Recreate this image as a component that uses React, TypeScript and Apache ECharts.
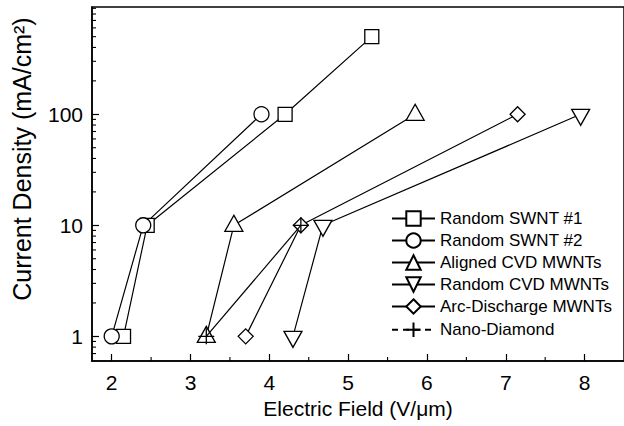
import React, { useEffect, useRef } from "react";
import * as echarts from "echarts";

const FONT = '"Liberation Sans", Arial, Helvetica, sans-serif';

const seriesNames = [
  "Random SWNT #1",
  "Random SWNT #2",
  "Aligned CVD MWNTs",
  "Random CVD MWNTs",
  "Arc-Discharge MWNTs",
  "Nano-Diamond",
];

const randomSwnt1: [number, number][] = [[2.15, 1], [2.45, 10], [4.2, 100], [5.3, 500]];
const randomSwnt2: [number, number][] = [[2.0, 1], [2.4, 10], [3.9, 100]];
const alignedCvd: [number, number][] = [[3.2, 1], [3.55, 10], [5.85, 100]];
const randomCvd: [number, number][] = [[4.3, 1], [4.68, 10], [7.95, 100]];
const arcDischarge: [number, number][] = [[3.7, 1], [4.4, 10], [7.15, 100]];
const nanoDiamond: [number, number][] = [[3.2, 1], [4.4, 10]];

const xTickLabels = ["2", "3", "4", "5", "6", "7", "8"];
const yTickLabels = ["1", "10", "100"];
const xMinorTicks = [2.5, 3.5, 4.5, 5.5, 6.5, 7.5];
const yMinorTicks = [
  0.7, 0.8, 0.9,
  2, 3, 4, 5, 6, 7, 8, 9,
  20, 30, 40, 50, 60, 70, 80, 90,
  200, 300, 400, 500, 600, 700, 800, 900,
];

const X_MIN = 1.75;
const X_MAX = 8.5;
const Y_MIN = 0.6;
const Y_MAX = 925;

const PLUS = "path://M0,5L10,5M5,0L5,10";

export default function App() {
  const ref = useRef<HTMLDivElement>(null);

  useEffect(() => {
    document.body.style.margin = "0";
    if (!ref.current) return;
    const chart = echarts.init(ref.current, undefined, { renderer: "svg" });

    const lineStyle = { color: "#000", width: 1.2 };
    const itemStyle = { color: "#fff", borderColor: "#000", borderWidth: 1.3 };

    const mk = (name: string, data: [number, number][], symbol: string, size: any, extra: any = {}) => ({
      name,
      type: "line",
      data,
      symbol,
      symbolSize: size,
      lineStyle,
      itemStyle,
      z: 3,
      ...extra,
    });

    const option: any = {
      animation: false,
      backgroundColor: "#fff",
      textStyle: { fontFamily: FONT, color: "#000" },
      grid: {
        left: 92,
        top: 7,
        right: -8,
        bottom: 65,
        show: true,
        borderColor: "#000",
        borderWidth: 1.5,
        backgroundColor: "transparent",
      },
      xAxis: {
        type: "value",
        min: X_MIN,
        max: X_MAX,
        splitLine: { show: false },
        axisLine: { lineStyle: { color: "#000", width: 1.5 } },
        axisTick: { inside: true, length: 7, lineStyle: { color: "#000", width: 1.2 } },
        axisLabel: {
          margin: 11,
          fontSize: 21,
          fontFamily: FONT,
          color: "#000",
          showMinLabel: false,
          showMaxLabel: false,
          formatter: (v: number) => {
            const s = String(Math.round(v * 1000) / 1000);
            return xTickLabels.includes(s) ? s : "";
          },
        },
        name: "Electric Field (V/\u03bcm)",
        nameLocation: "middle",
        nameGap: 31,
        nameTextStyle: { fontSize: 21, fontFamily: FONT, color: "#000" },
      },
      yAxis: {
        type: "log",
        logBase: 10,
        min: Y_MIN,
        max: Y_MAX,
        splitLine: { show: false },
        axisLine: { show: true, lineStyle: { color: "#000", width: 1.5 } },
        axisTick: { show: true, inside: true, length: 7, lineStyle: { color: "#000", width: 1.2 } },
        axisLabel: {
          margin: 9,
          fontSize: 21,
          fontFamily: FONT,
          color: "#000",
          showMinLabel: false,
          showMaxLabel: false,
          formatter: (v: number) => {
            const s = String(Math.round(v * 1000) / 1000);
            return yTickLabels.includes(s) ? s : "";
          },
        },
      },
      legend: {
        orient: "vertical",
        left: 391,
        top: 210,
        padding: 0,
        itemWidth: 43,
        itemHeight: 18,
        itemGap: 5,
        selectedMode: false,
        textStyle: { fontSize: 17, fontFamily: FONT, color: "#000", lineHeight: 17 },
        data: [
          { name: seriesNames[0] },
          { name: seriesNames[1] },
          { name: seriesNames[2] },
          { name: seriesNames[3] },
          { name: seriesNames[4] },
          { name: seriesNames[5], lineStyle: { type: [6, 5] } },
        ],
      },
      graphic: [
        {
          type: "text",
          x: 22,
          y: 159,
          rotation: Math.PI / 2,
          style: {
            text: "Current Density (mA/cm\u00b2)",
            fontSize: 25,
            fontFamily: FONT,
            fill: "#000",
            align: "center",
            verticalAlign: "middle",
          },
        },
      ],
      series: [
        {
          type: "custom",
          silent: true,
          z: 1,
          data: yMinorTicks.map((v) => [X_MIN, v]),
          renderItem: (_p: any, api: any) => {
            const p = api.coord([api.value(0), api.value(1)]);
            return {
              type: "line",
              shape: { x1: p[0], y1: p[1], x2: p[0] + 4, y2: p[1] },
              style: { stroke: "#000", lineWidth: 1.1 },
            };
          },
        },
        {
          type: "custom",
          silent: true,
          z: 1,
          data: xMinorTicks.map((v) => [v, Y_MIN]),
          renderItem: (_p: any, api: any) => {
            const p = api.coord([api.value(0), api.value(1)]);
            return {
              type: "line",
              shape: { x1: p[0], y1: p[1], x2: p[0], y2: p[1] - 4 },
              style: { stroke: "#000", lineWidth: 1.1 },
            };
          },
        },
        mk(seriesNames[0], randomSwnt1, "rect", 14),
        mk(seriesNames[1], randomSwnt2, "circle", 15),
        mk(seriesNames[2], alignedCvd, "triangle", [18, 16], { symbolOffset: [0, -2] }),
        mk(seriesNames[3], randomCvd, "triangle", [18, 16], { symbolRotate: 180, symbolOffset: [0, 3] }),
        mk(seriesNames[4], arcDischarge, "diamond", 15),
        mk(seriesNames[5], nanoDiamond, PLUS, 16, {
          itemStyle: { color: "none", borderColor: "#000", borderWidth: 1.3 },
          z: 4,
        }),
      ],
    };

    chart.setOption(option);
    return () => chart.dispose();
  }, []);

  return <div ref={ref} style={{ width: 624, height: 426 }} />;
}
